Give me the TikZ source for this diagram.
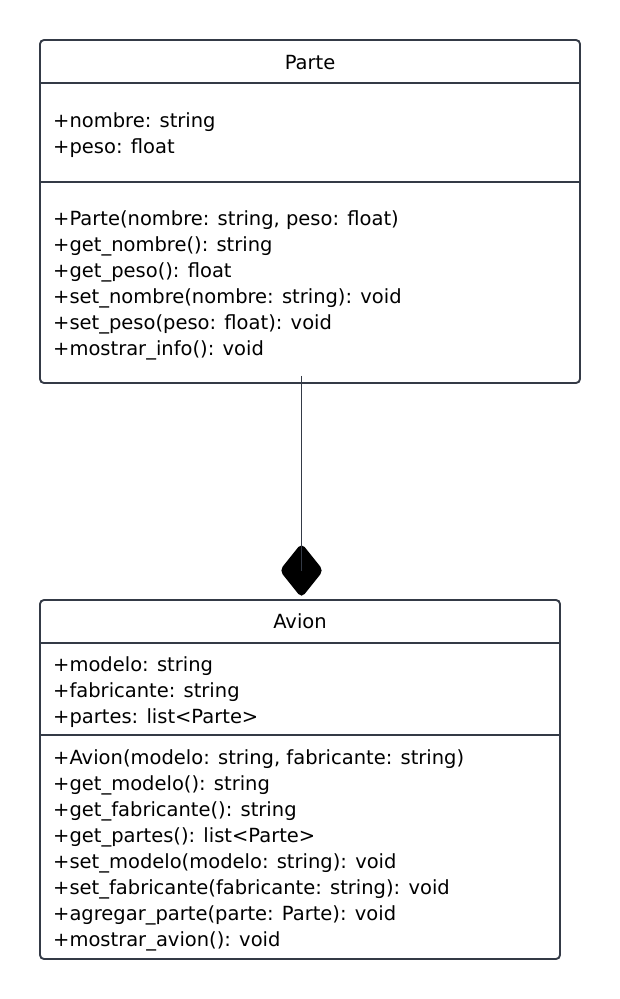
\documentclass[tikz,border=0pt]{standalone}
\usepackage{fontspec}
\setmainfont{DejaVu Sans}
\usepackage{xcolor}
\usetikzlibrary{shapes.geometric}

\begin{document}
\begin{tikzpicture}[x=1pt,y=-1pt]
	\tikzstyle{every node}=[font=\fontsize{19.5}{22}\selectfont]
	\tikzstyle{caja}=[draw={rgb,255:red,52; green,58; blue,70}, line width=1.9pt, rounded corners=4pt, inner sep=0pt]
	\tikzstyle{miembro}=[anchor=base west, inner sep=0pt]
	\tikzstyle{titulo}=[anchor=base, inner sep=0pt]
	\useasboundingbox (0,0) rectangle (620,999);
	% clase Parte
	\node (parte) [caja, minimum width=540pt, minimum height=343pt] at (310,211.5) {};
	\draw [color={rgb,255:red,52; green,58; blue,70}, line width=1.9pt] (40,83) -- (580,83);
	\draw [color={rgb,255:red,52; green,58; blue,70}, line width=1.9pt] (40,182) -- (580,182);
	\node (parteTit) [titulo] at (310,69) {Parte};
	\node (p1) [miembro] at (53,127) {+nombre: string};
	\node (p2) [miembro] at (53,153) {+peso: float};
	\node (p3) [miembro] at (53,225) {+Parte(nombre: string, peso: float)};
	\node (p4) [miembro] at (53,251) {+get\_nombre(): string};
	\node (p5) [miembro] at (53,277) {+get\_peso(): float};
	\node (p6) [miembro] at (53,303) {+set\_nombre(nombre: string): void};
	\node (p7) [miembro] at (53,329) {+set\_peso(peso: float): void};
	\node (p8) [miembro] at (53,355) {+mostrar\_info(): void};
	% clase Avion
	\node (avion) [caja, minimum width=520pt, minimum height=359pt] at (300,779.5) {};
	\draw [color={rgb,255:red,52; green,58; blue,70}, line width=1.9pt] (40,643) -- (560,643);
	\draw [color={rgb,255:red,52; green,58; blue,70}, line width=1.9pt] (40,735) -- (560,735);
	\node (avionTit) [titulo] at (300,628) {Avion};
	\node (a1) [miembro] at (53,671) {+modelo: string};
	\node (a2) [miembro] at (53,697) {+fabricante: string};
	\node (a3) [miembro] at (53,723) {+partes: list<Parte>};
	\node (a4) [miembro] at (53,764) {+Avion(modelo: string, fabricante: string)};
	\node (a5) [miembro] at (53,790) {+get\_modelo(): string};
	\node (a6) [miembro] at (53,816) {+get\_fabricante(): string};
	\node (a7) [miembro] at (53,842) {+get\_partes(): list<Parte>};
	\node (a8) [miembro] at (53,868) {+set\_modelo(modelo: string): void};
	\node (a9) [miembro] at (53,894) {+set\_fabricante(fabricante: string): void};
	\node (a10) [miembro] at (53,920) {+agregar\_parte(parte: Parte): void};
	\node (a11) [miembro] at (53,946) {+mostrar\_avion(): void};
	% composicion
	\node (rombo) [diamond, fill=black, minimum width=44pt, minimum height=55pt, inner sep=0pt, rounded corners=5pt] at (301.5,570.5) {};
	\draw [color={rgb,255:red,52; green,58; blue,70}, line width=1.6pt] (parte.south -| rombo.center) ++(0,-8) -- (rombo.center);
\end{tikzpicture}
\end{document}
